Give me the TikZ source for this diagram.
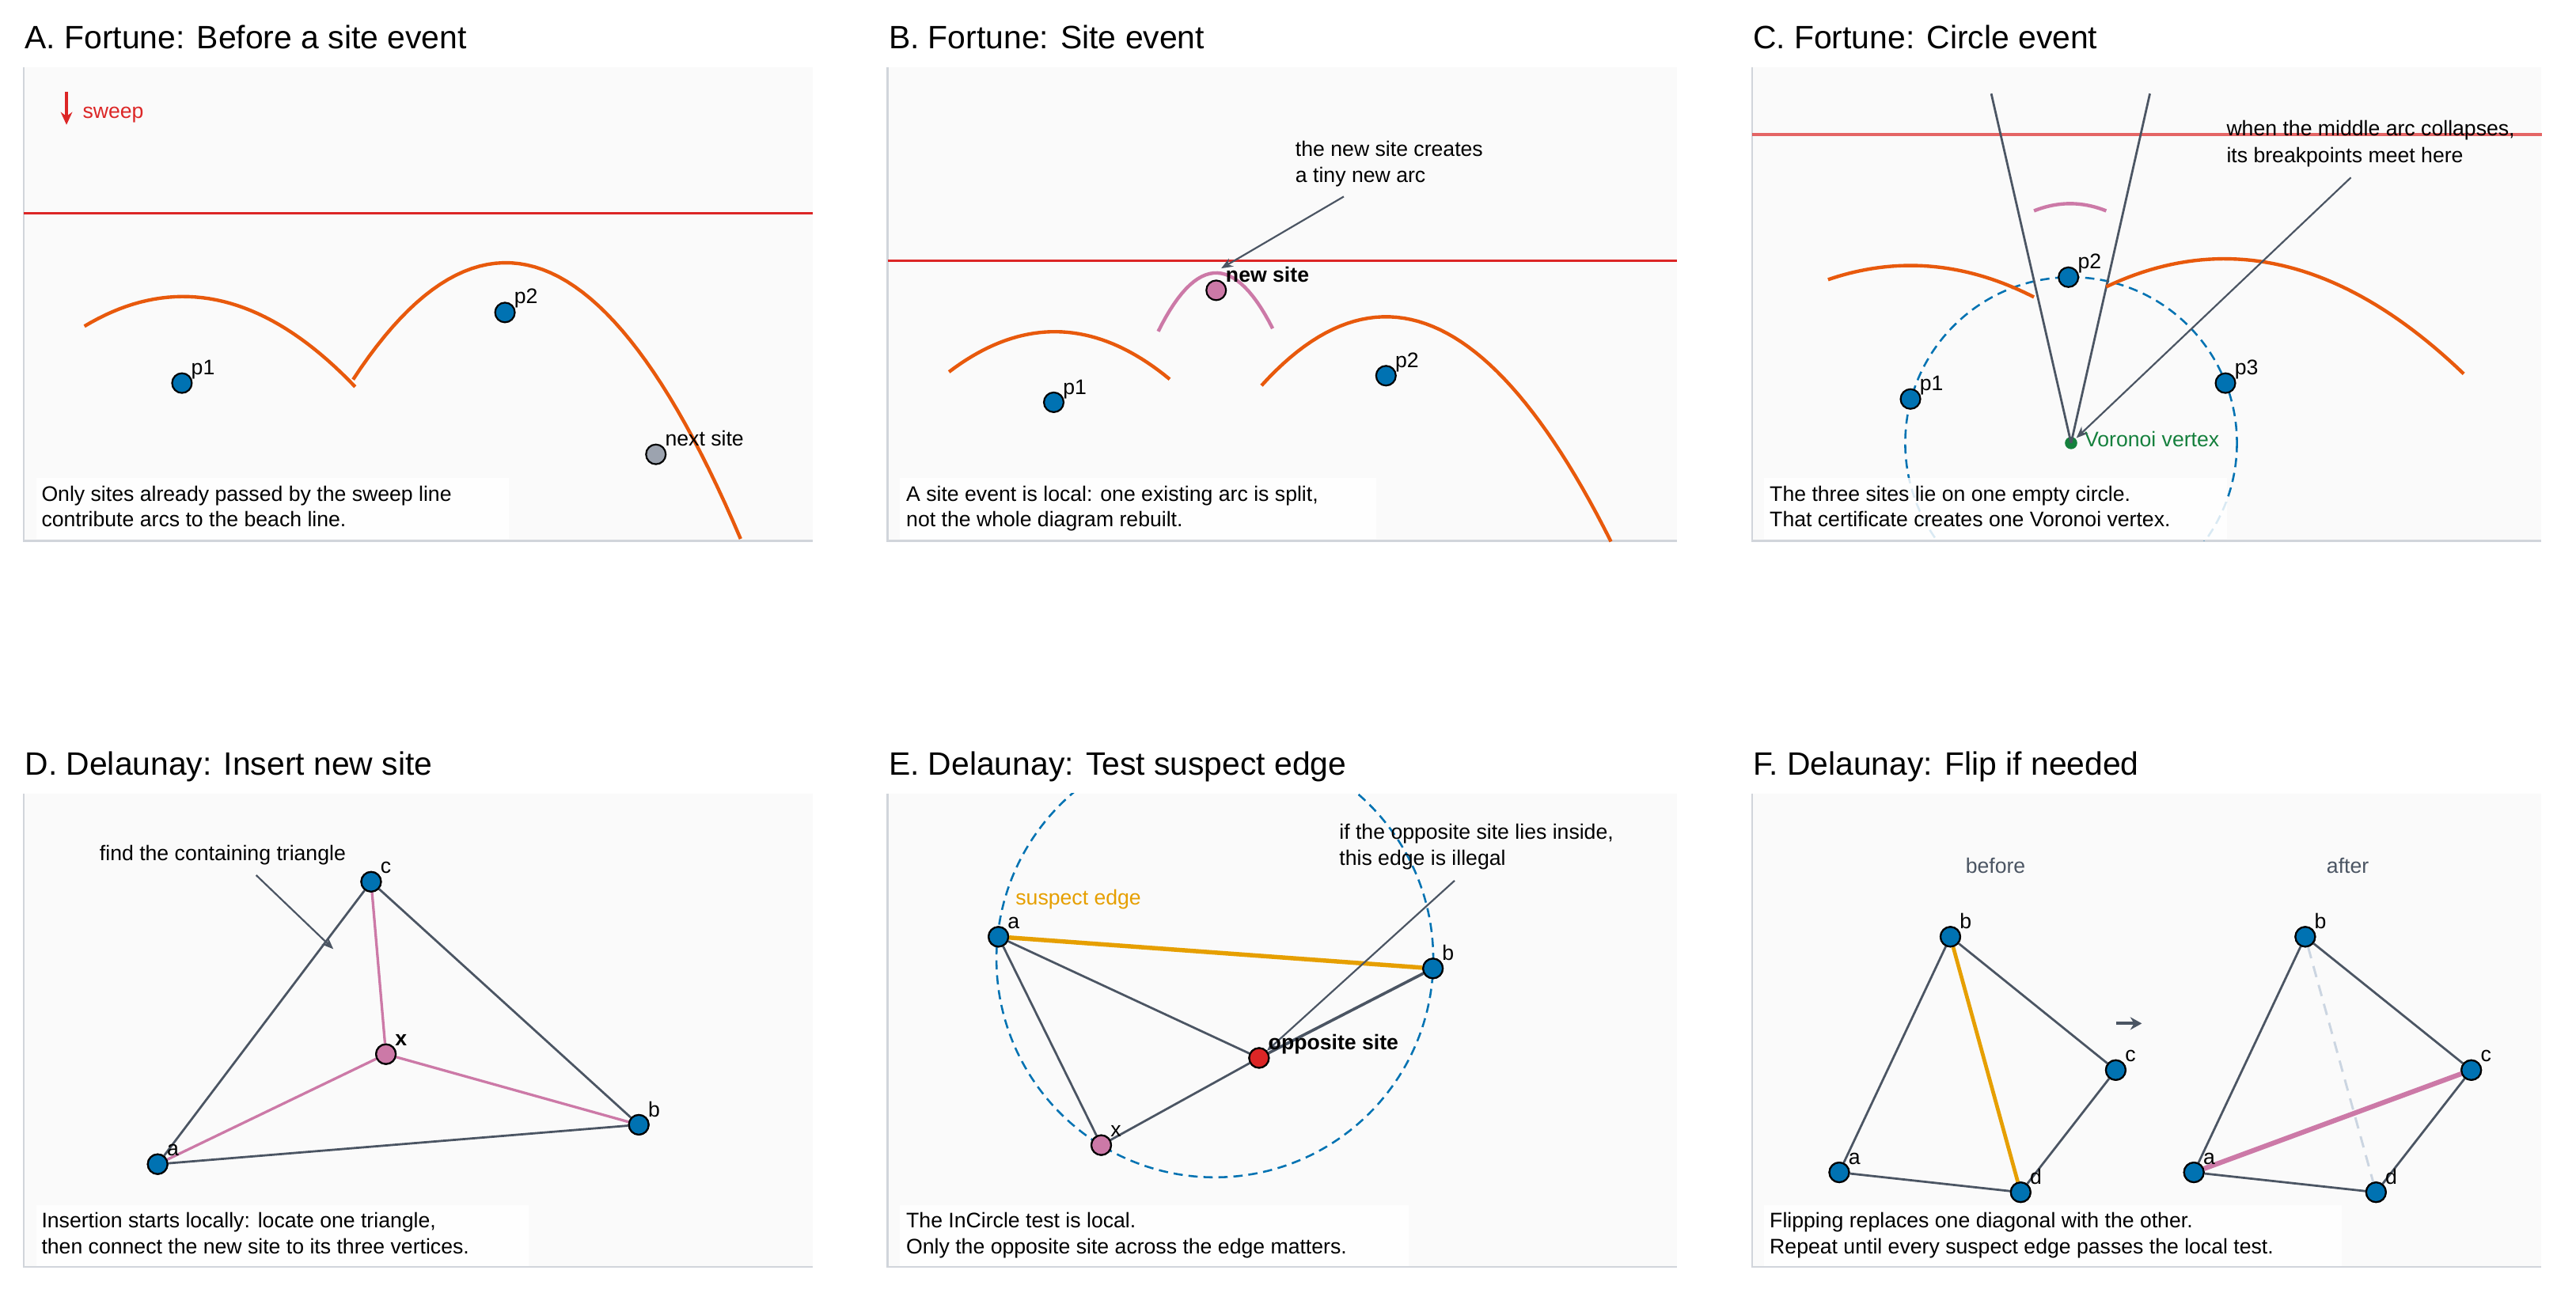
\documentclass[tikz,border=0pt]{standalone}
\usepackage{fontspec}
\setmainfont{Liberation Sans}
\usetikzlibrary{arrows.meta}
\definecolor{cblue}{HTML}{0072B2}
\definecolor{corange}{HTML}{E8590C}
\definecolor{cred}{HTML}{DC2626}
\definecolor{cpink}{HTML}{CC79A7}
\definecolor{cgray}{HTML}{4B5563}
\definecolor{cgold}{HTML}{E69F00}
\definecolor{cgreen}{HTML}{15803D}
\definecolor{clight}{HTML}{9CA3AF}
\definecolor{cspine}{HTML}{D1D5DB}
\definecolor{cbg}{HTML}{FAFAFA}
\definecolor{cdash}{HTML}{CBD5E1}
\tikzset{
  ttl/.style={anchor=base west,inner sep=0,font=\fontsize{5.6}{6}\selectfont},
  txt/.style={anchor=base west,inner sep=0,font=\fontsize{3.65}{4.4}\selectfont},
  btxt/.style={txt,font=\fontsize{3.65}{4.4}\selectfont\bfseries},
  site/.style={circle,draw=black,line width=0.3pt,fill=cblue,minimum size=0.12cm,inner sep=0},
  beach/.style={corange,line width=0.6pt},
  newarc/.style={cpink,line width=0.6pt},
  edge/.style={cgray,line width=0.38pt},
  sweepline/.style={cred,line width=0.45pt},
  ccirc/.style={cblue,line width=0.35pt,dash pattern=on 1.6pt off 1pt},
  ann/.style={cgray,line width=0.3pt,-{Stealth[length=2pt,width=1.6pt]}},
  capbox/.style={fill=white,fill opacity=0.85,draw=none},
}
\newcommand{\panel}[2]{%
  \fill[cbg] (#1,#2) rectangle ++(480.5,288.5);
  \draw[cspine,line width=0.3pt] (#1,#2) -- ++(0,288.5) -- ++(480.5,0);
}
\begin{document}
\begin{tikzpicture}[x=0.01cm,y=-0.01cm]
\useasboundingbox (0,0) rectangle (1568.7,787);
% ---------------- A ----------------
\node[ttl] (tA) at (14.5,29.4) {A. Fortune: Before a site event};
\panel{14.5}{40.9}
\draw[sweepline] (14.5,129.9) -- (495,129.9);
\coordinate (sw1) at (40.5,56); \coordinate (sw2) at (40.5,76);
\draw[cred,line width=0.45pt,-{Stealth[length=2.2pt,width=2pt]}] (sw1) -- (sw2);
\node[txt,text=cred] (swl) at (49.7,72) {sweep};
\draw[beach] plot[domain=51.4:216.3,samples=40] (\x,{180.6+0.005*(\x-111.5)*(\x-111.5)});
\draw[beach] plot[domain=215:451,samples=50] (\x,{160+0.00823*(\x-308)*(\x-308)});
\node[site] (a1) at (110.8,233.3) {}; \node[txt] (a1l) at (115.8,228) {p1};
\node[site] (a2) at (307.5,190.3) {}; \node[txt] (a2l) at (312.5,185) {p2};
\node[site,fill=clight] (a3) at (399.4,276.7) {}; \node[txt] (a3l) at (404.4,271.5) {next site};
\fill[capbox] (22,291) rectangle (310,328);
\node[txt] (capA1) at (24.6,305.3) {Only sites already passed by the sweep line};
\node[txt] (capA2) at (24.6,320.8) {contribute arcs to the beach line.};
% ---------------- B ----------------
\node[ttl] (tB) at (540.5,29.4) {B. Fortune: Site event};
\panel{540.5}{40.9}
\draw[sweepline] (540.5,158.8) -- (1021,158.8);
\draw[newarc] plot[domain=705.3:775,samples=30] (\x,{166.2+0.0286*(\x-740.6)*(\x-740.6)});
\draw[beach] plot[domain=577.9:712.3,samples=40] (\x,{202+0.0059*(\x-642.3)*(\x-642.3)});
\draw[beach] plot[domain=768.2:981,samples=50] (\x,{192.9+0.0073*(\x-844)*(\x-844)});
\node[site,fill=cpink] (bn) at (740.6,176.8) {}; \node[btxt] (bnl) at (745.8,172) {new site};
\node[site] (b1) at (641.7,245) {}; \node[txt] (b1l) at (646.7,240) {p1};
\node[site] (b2) at (844,228.8) {}; \node[txt] (b2l) at (849,223.8) {p2};
\node[txt] (bann1) at (788.2,95.2) {the new site creates};
\node[txt] (bann2) at (788.2,110.9) {a tiny new arc};
\coordinate (bA) at (818.3,119.7); \coordinate (bB) at (743.7,163.4);
\draw[ann] (bA) -- (bB);
\fill[capbox] (548,291) rectangle (838,328);
\node[txt] (capB1) at (551.2,305.3) {A site event is local: one existing arc is split,};
\node[txt] (capB2) at (551.2,320.8) {not the whole diagram rebuilt.};
% ---------------- C ----------------
\node[ttl] (tC) at (1066.8,29.4) {C. Fortune: Circle event};
\panel{1066.8}{40.9}
\begin{scope}
\clip (1066.8,40.9) rectangle (1548,329.4);
\draw[ccirc] (1261.2,269.8) circle (101);
\end{scope}
\draw[sweepline,draw opacity=0.7] (1066.8,81.9) -- (1548,81.9);
\coordinate (ct1) at (1212.6,57); \coordinate (ct2) at (1309.2,57);
\node[circle,fill=cgreen,minimum size=0.075cm,inner sep=0] (cv) at (1261.2,269.8) {};
\draw[edge] (ct1) -- (cv.center); \draw[edge] (ct2) -- (cv.center);
\draw[newarc] plot[domain=1238.6:1282.6,samples=20] (\x,{124+0.0091*(\x-1260.6)*(\x-1260.6)});
\draw[beach] plot[domain=1113.2:1238.6,samples=40] (\x,{161.7+0.0034*(\x-1163.4)*(\x-1163.4)});
\draw[beach] plot[domain=1282.6:1500.3,samples=50] (\x,{157.6+0.0033*(\x-1354.5)*(\x-1354.5)});
\node[site] (c2) at (1259.6,168.8) {}; \node[txt] (c2l) at (1264.6,163.8) {p2};
\node[site] (c1) at (1163.4,243) {}; \node[txt] (c1l) at (1168.4,238) {p1};
\node[site] (c3) at (1355.2,233.3) {}; \node[txt] (c3l) at (1360.2,228.3) {p3};
\node[txt,text=cgreen] (cvl) at (1268.7,272) {Voronoi vertex};
\node[txt] (cann1) at (1355.2,82.8) {when the middle arc collapses,};
\node[txt] (cann2) at (1355.2,99) {its breakpoints meet here};
\coordinate (cA) at (1431.6,108.1);
\draw[ann] (cA) -- (cv);
\fill[capbox] (1074,291) rectangle (1356,328);
\node[txt] (capC1) at (1077,305.3) {The three sites lie on one empty circle.};
\node[txt] (capC2) at (1077,320.8) {That certificate creates one Voronoi vertex.};
% ---------------- D ----------------
\node[ttl] (tD) at (14.5,471.9) {D. Delaunay: Insert new site};
\panel{14.5}{483.2}
\node[site] (dc) at (226,537) {};
\node[site,fill=cpink] (dx) at (235,642) {};
\node[site] (db) at (389,685) {};
\node[site] (da) at (96,709) {};
\draw[edge] (da) -- (dc) -- (db) -- (da);
\draw[newarc,line width=0.45pt] (dx) -- (da); \draw[newarc,line width=0.45pt] (dx) -- (db); \draw[newarc,line width=0.45pt] (dx) -- (dc);
\node[site] at (dc) {}; \node[site,fill=cpink] at (dx) {}; \node[site] at (db) {}; \node[site] at (da) {};
\node[txt] (dcl) at (231,532) {c}; \node[btxt] (dxl) at (240,637) {x};
\node[txt] (dbl) at (394,680) {b}; \node[txt] (dal) at (101,704) {a};
\node[txt] (dann) at (60,524) {find the containing triangle};
\coordinate (dA) at (156,533); \coordinate (dB) at (203,578);
\draw[ann] (dA) -- (dB);
\fill[capbox] (22,734) rectangle (322,771);
\node[txt] (capD1) at (24.6,747.8) {Insertion starts locally: locate one triangle,};
\node[txt] (capD2) at (24.6,763.5) {then connect the new site to its three vertices.};
% ---------------- E ----------------
\node[ttl] (tE) at (540.5,471.9) {E. Delaunay: Test suspect edge};
\panel{540.5}{483.2}
\begin{scope}
\clip (540.5,483.2) rectangle (1021,771.7);
\draw[ccirc] (739.8,584) circle (133);
\end{scope}
\node[site] (ea) at (608,570.5) {};
\node[site] (eb) at (872.6,589.8) {};
\node[site,fill=cred] (eo) at (766.7,644.3) {};
\node[site,fill=cpink] (ex) at (670.6,697.4) {};
\draw[edge] (ea) -- (eo); \draw[edge] (ea) -- (ex); \draw[edge] (ex) -- (eo); \draw[edge,line width=0.5pt] (eo) -- (eb);
\draw[cgold,line width=0.75pt] (ea) -- (eb);
\coordinate (eA) at (885.8,536.3);
\draw[ann] (eA) -- (eo);
\node[site] at (ea) {}; \node[site] at (eb) {}; \node[site,fill=cred] at (eo) {}; \node[site,fill=cpink] at (ex) {};
\node[txt] (eal) at (613,565.5) {a}; \node[txt] (ebl) at (877.6,584.8) {b};
\node[txt] (exl) at (675.6,692.4) {x}; \node[btxt] (eol) at (771.7,639.3) {opposite site};
\node[txt,text=cgold] (esl) at (617.8,551) {suspect edge};
\node[txt] (eann1) at (814.9,511.1) {if the opposite site lies inside,};
\node[txt] (eann2) at (814.9,526.8) {this edge is illegal};
\fill[capbox] (548,734) rectangle (858,771);
\node[txt] (capE1) at (551.2,747.8) {The InCircle test is local.};
\node[txt] (capE2) at (551.2,763.5) {Only the opposite site across the edge matters.};
% ---------------- F ----------------
\node[ttl] (tF) at (1066.8,471.9) {F. Delaunay: Flip if needed};
\panel{1066.8}{483.2}
\node[txt,anchor=base,text=cgray] (fbef) at (1215.2,532) {before};
\node[txt,anchor=base,text=cgray] (faft) at (1429.7,532) {after};
\node[site] (fb) at (1187.7,570.5) {}; \node[site] (fc) at (1288.4,651.7) {};
\node[site] (fd) at (1230.5,726.1) {}; \node[site] (fa) at (1120,714) {};
\draw[edge] (fa) -- (fb) -- (fc) -- (fd) -- (fa);
\draw[cgold,line width=0.65pt] (fb) -- (fd);
\node[site] (gb) at (1403.8,570.5) {}; \node[site] (gc) at (1504.9,651.7) {};
\node[site] (gd) at (1446.9,726.1) {}; \node[site] (ga) at (1336,714) {};
\draw[edge] (ga) -- (gb) -- (gc) -- (gd) -- (ga);
\draw[cdash,line width=0.4pt,dash pattern=on 2pt off 1.4pt] (gb) -- (gd);
\draw[cpink,line width=0.85pt] (ga) -- (gc);
\foreach \n in {fa,fb,fc,fd,ga,gb,gc,gd} {\node[site] at (\n) {};}
\node[txt] (fbl) at (1192.7,565.5) {b}; \node[txt] (fcl) at (1293.4,646.7) {c};
\node[txt] (fdl) at (1235.5,721.1) {d}; \node[txt] (fal) at (1125,709) {a};
\node[txt] (gbl) at (1408.8,565.5) {b}; \node[txt] (gcl) at (1509.9,646.7) {c};
\node[txt] (gdl) at (1451.9,721.1) {d}; \node[txt] (gal) at (1341,709) {a};
\coordinate (fr1) at (1288.8,623.3); \coordinate (fr2) at (1304.3,623.3);
\draw[cgray,line width=0.55pt,-{Stealth[length=2pt,width=2.2pt]}] (fr1) -- (fr2);
\fill[capbox] (1074,734) rectangle (1426,771);
\node[txt] (capF1) at (1077,747.8) {Flipping replaces one diagonal with the other.};
\node[txt] (capF2) at (1077,763.5) {Repeat until every suspect edge passes the local test.};
\end{tikzpicture}
\end{document}
